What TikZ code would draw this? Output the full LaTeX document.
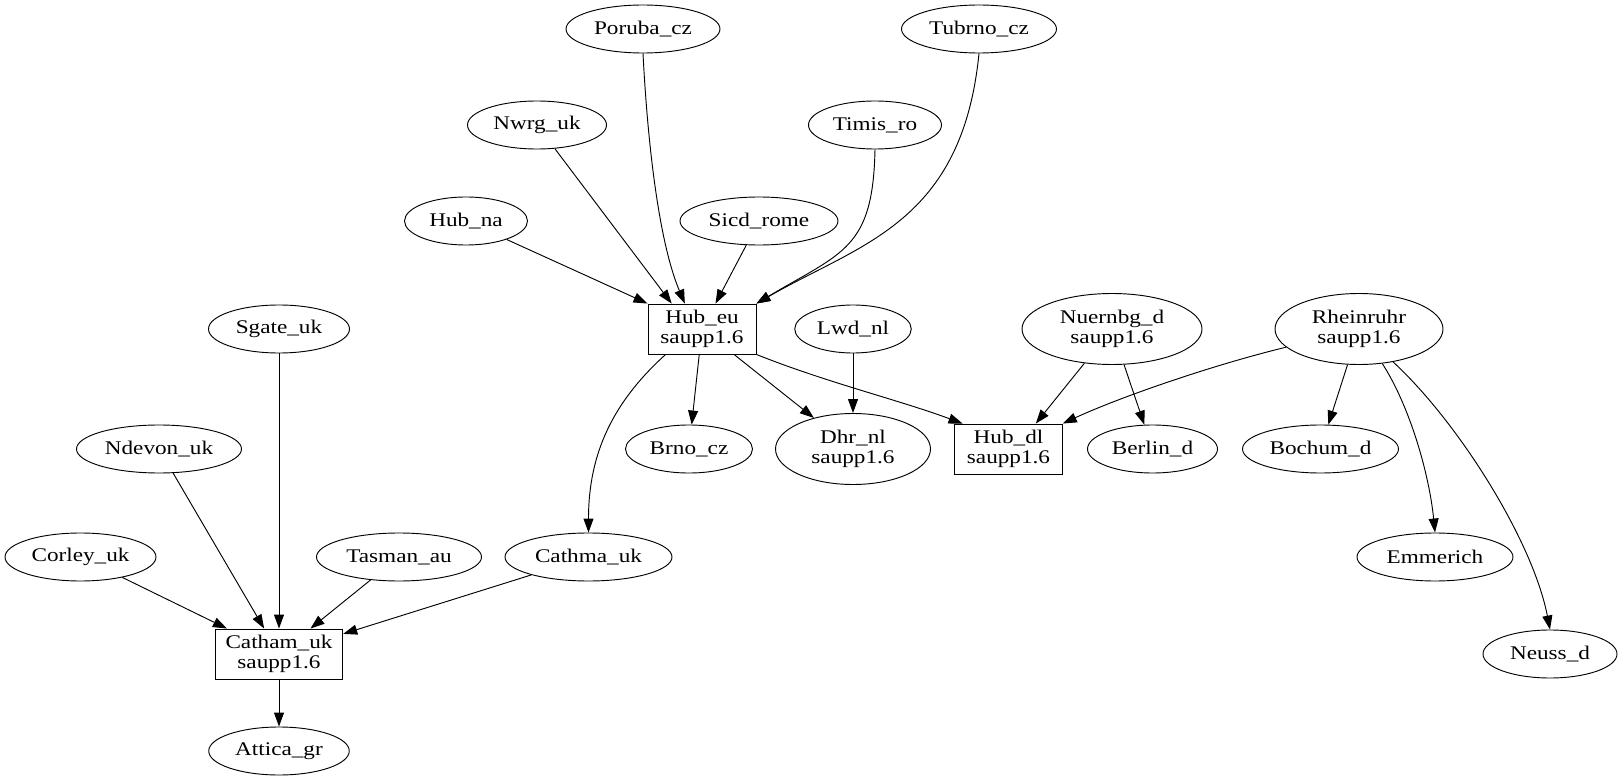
\documentclass[tikz,border=0pt]{standalone}
\usepackage{fontspec}
\setmainfont[FakeStretch=1.2]{Liberation Serif}
\usepackage{tikz}
\usetikzlibrary{shapes.geometric, arrows.meta}

\begin{document}
\begin{tikzpicture}[x = 0.75pt, y = 0.75pt,
    font = \fontsize{14.5}{15}\selectfont,
    nodo/.style = {draw, ellipse, line width = 0.7pt, inner sep = 0pt, minimum height = 36pt},
    doppio/.style = {nodo, align = center, minimum height = 53.25pt},
    scatola/.style = {draw, rectangle, line width = 0.7pt, inner sep = 0pt, align = center, minimum height = 37.5pt},
    freccia/.style = {line width = 0.7pt, -{Triangle[length = 10.5pt, width = 7.5pt]}}]
    % Cornice
    \useasboundingbox (0,0) rectangle (1622,-781);
    % Nodi (in alto)
    \node[nodo, minimum width = 115.5pt] (poruba) at (643,-29) {Poruba\_cz};
    \node[nodo, minimum width = 116.25pt] (tubrno) at (979,-29) {Tubrno\_cz};
    \node[nodo, minimum width = 104.25pt] (nwrg) at (537,-125) {Nwrg\_uk};
    \node[nodo, minimum width = 99.75pt] (timis) at (875,-125) {Timis\_ro};
    \node[nodo, minimum width = 92.25pt] (hubna) at (466,-221) {Hub\_na};
    \node[nodo, minimum width = 118.5pt] (sicd) at (759,-221) {Sicd\_rome};
    \node[scatola, minimum width = 81pt] (hubeu) at (702,-329) {Hub\_eu\\saupp1.6};
    \node[nodo, minimum width = 87.4pt] (lwd) at (853,-329) {Lwd\_nl};
    \node[doppio, minimum width = 135pt] (nuernbg) at (1112,-329) {Nuernbg\_d\\saupp1.6};
    \node[doppio, minimum width = 126pt] (rheinruhr) at (1359,-329) {Rheinruhr\\saupp1.6};
    % Nodi (in mezzo)
    \node[nodo, minimum width = 105.75pt] (sgate) at (279,-329) {Sgate\_uk};
    \node[nodo, minimum width = 123.75pt] (ndevon) at (159,-449) {Ndevon\_uk};
    \node[nodo, minimum width = 95.25pt] (brno) at (689,-449) {Brno\_cz};
    \node[doppio, minimum width = 116.25pt] (dhr) at (853,-449) {Dhr\_nl\\saupp1.6};
    \node[scatola, minimum width = 80.7pt] (hubdl) at (1008.5,-449) {Hub\_dl\\saupp1.6};
    \node[nodo, minimum width = 97.5pt] (berlin) at (1152.5,-449) {Berlin\_d};
    \node[nodo, minimum width = 117pt] (bochum) at (1320.5,-449) {Bochum\_d};
    % Nodi (in basso)
    \node[nodo, minimum width = 113.25pt] (corley) at (80.5,-557) {Corley\_uk};
    \node[nodo, minimum width = 123.75pt] (tasman) at (399,-557) {Tasman\_au};
    \node[nodo, minimum width = 125.25pt] (cathma) at (588.5,-557) {Cathma\_uk};
    \node[nodo, minimum width = 117pt] (emmerich) at (1435,-557) {Emmerich};
    \node[scatola, minimum width = 95.6pt] (catham) at (279,-654) {Catham\_uk\\saupp1.6};
    \node[nodo, minimum width = 100.5pt] (neuss) at (1550,-654) {Neuss\_d};
    \node[nodo, minimum width = 105.4pt] (attica) at (279,-751) {Attica\_gr};
    % Archi verso Hub_eu
    \draw[freccia] (poruba.south) .. controls +(5,-97) and +(-25,59) .. (hubeu.124);
    \draw[freccia] (nwrg) -- (hubeu.140);
    \draw[freccia] (hubna) -- (hubeu.north west);
    \draw[freccia] (sicd) -- (hubeu.62);
    \draw[freccia] (timis.south) .. controls +(-2,-100) and +(86,51.5) .. (hubeu.north east);
    \draw[freccia] (tubrno.south) .. controls +(-17,-170) and +(104,60) .. (hubeu.north east);
    % Archi da Hub_eu
    \draw[freccia] (hubeu.215) .. controls +(-52,-47) and +(0,80) .. (cathma.north);
    \draw[freccia] (hubeu) -- (brno);
    \draw[freccia] (hubeu) -- (dhr);
    \draw[freccia] (hubeu.south east) .. controls +(70,-28) and +(-65,24) .. (hubdl.151);
    \draw[freccia] (lwd) -- (dhr);
    % Archi a destra
    \draw[freccia] (nuernbg) -- (hubdl.43);
    \draw[freccia] (nuernbg) -- (berlin);
    \draw[freccia] (rheinruhr.194) .. controls +(-78,-19) and +(54,25) .. (hubdl.north east);
    \draw[freccia] (rheinruhr) -- (bochum);
    \draw[freccia] (rheinruhr.-56) .. controls +(27,-42) and +(-6,60) .. (emmerich.north);
    \draw[freccia] (rheinruhr.-44) .. controls +(66,-61) and +(-17,88) .. (neuss.north);
    % Archi verso Catham_uk
    \draw[freccia] (sgate) -- (catham);
    \draw[freccia] (ndevon) -- (catham);
    \draw[freccia] (corley) -- (catham);
    \draw[freccia] (tasman) -- (catham);
    \draw[freccia] (cathma) -- (catham);
    \draw[freccia] (catham) -- (attica);
\end{tikzpicture}
\end{document}
